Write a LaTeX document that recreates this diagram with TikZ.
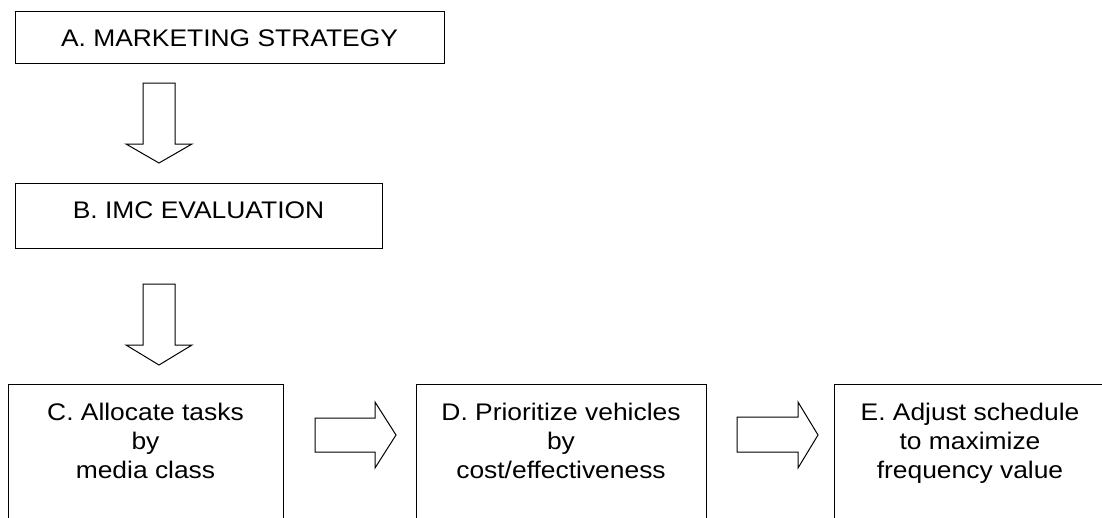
\documentclass[tikz,border=0pt]{standalone}
\usepackage{fontspec}
\setmainfont{Liberation Sans}[FakeStretch=1.1]
\begin{document}
\begin{tikzpicture}[x=1pt,y=-1pt,
  box/.style={draw=black,line width=1.2pt,fill=white,inner sep=0pt,anchor=north west},
  lbl/.style={inner sep=0pt,anchor=base,font=\fontsize{24}{29}\selectfont},
  mlbl/.style={inner sep=0pt,anchor=north,align=center,font=\fontsize{24}{29}\selectfont},
  blk/.style={draw=black,line width=1pt,fill=white,line join=miter}]
\useasboundingbox (0,0) rectangle (1102,517);
\clip (0,0) rectangle (1102,517);
% boxes
\node[box,minimum width=429pt,minimum height=52pt] (A) at (15,11) {};
\node[box,minimum width=367pt,minimum height=65pt] (B) at (15,183) {};
\node[box,minimum width=275pt,minimum height=160pt] (C) at (8,384) {};
\node[box,minimum width=290pt,minimum height=160pt] (D) at (416,384) {};
\node[box,minimum width=272pt,minimum height=160pt] (E) at (834,384) {};
% texts
\node[lbl] (At) at (229.5,46.5) {A. MARKETING STRATEGY};
\node[lbl] (Bt) at (198.5,218) {B. IMC EVALUATION};
\node[mlbl] (Ct) at (145.5,402.5) {C. Allocate tasks\\by\\media class};
\node[mlbl] (Dt) at (561,402.5) {D. Prioritize vehicles\\by\\cost/effectiveness};
\node[mlbl] (Et) at (970,402.5) {E. Adjust schedule\\to maximize\\frequency value};
% block arrows
\draw[blk] (143,83) -- (175,83) -- (175,144) -- (192,144) -- (159,163) -- (126,144) -- (143,144) -- cycle;
\draw[blk] (143,284) -- (175,284) -- (175,345) -- (192,345) -- (159,365) -- (126,345) -- (143,345) -- cycle;
\draw[blk] (315,418) -- (375,418) -- (375,402) -- (396,435) -- (375,468) -- (375,452) -- (315,452) -- cycle;
\draw[blk] (737,417) -- (798,417) -- (798,402) -- (818,435) -- (798,468) -- (798,452) -- (737,452) -- cycle;
\end{tikzpicture}
\end{document}
